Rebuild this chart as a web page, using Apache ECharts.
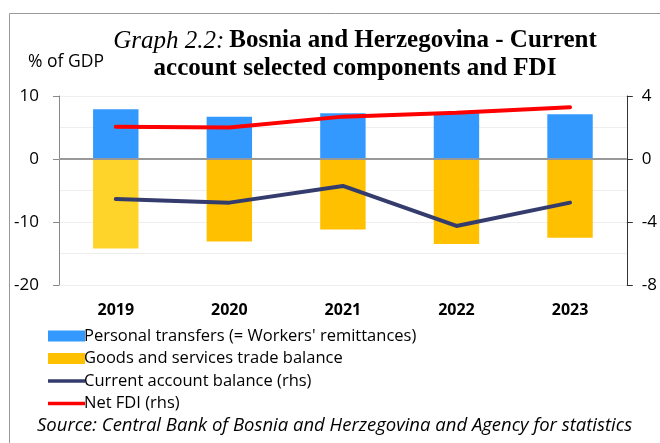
<!DOCTYPE html>
<html>
<head>
<meta charset="utf-8">
<script src="https://cdn.jsdelivr.net/npm/echarts@6/dist/echarts.min.js"></script>
<style>
  html, body { margin: 0; padding: 0; background: #fff; }
  #chart { width: 660px; height: 443px; }
</style>
</head>
<body>
<div id="chart"></div>
<script>
const years = ['2019', '2020', '2021', '2022', '2023']
// % of GDP, left axis
const personalTransfers = [7.9, 6.7, 7.25, 7.25, 7.1]
const tradeBalance = [-14.2, -13.1, -11.2, -13.5, -12.5]
// rhs
const currentAccount = [-2.54, -2.77, -1.71, -4.25, -2.77]
const netFdi = [2.05, 2.0, 2.69, 2.94, 3.28]

const leftTicks = { min: -20, max: 10, interval: 10 }
const rightTicks = { min: -8, max: 4, interval: 4 }

const sans = 'Open Sans'
const lineIcon = 'path://M0,0 L36,0 L36,3.5 L0,3.5 Z'

const myChart = echarts.init(document.getElementById('chart'))

const option = {
    animation: false,
    backgroundColor: '#fff',
    title: {
        text: '{i|Graph 2.2:} {b|Bosnia and Herzegovina - Current}\n{b|account selected components and FDI}',
        left: 350,
        textAlign: 'center',
        top: 22,
        textStyle: {
            rich: {
                i: { fontFamily: 'Liberation Serif', fontStyle: 'italic', fontWeight: 'normal', fontSize: 25, color: '#000', lineHeight: 28 },
                b: { fontFamily: 'Liberation Serif', fontWeight: 'bold', fontSize: 25, color: '#000', lineHeight: 28 }
            }
        }
    },
    graphic: [
        {
            type: 'rect',
            shape: { x: 9.5, y: 13.5, width: 700, height: 500 },
            style: { fill: 'none', stroke: '#999', lineWidth: 1 },
            silent: true
        },
        {
            type: 'text',
            left: 28,
            top: 53,
            style: { text: '% of GDP', fontFamily: sans, fontSize: 17.5, fill: '#000' }
        },
        {
            type: 'text',
            left: 37,
            top: 416,
            style: {
                text: 'Source: Central Bank of Bosnia and Herzegovina and Agency for statistics',
                fontFamily: sans, fontStyle: 'italic', fontSize: 18.5, fill: '#000'
            }
        }
    ],
    legend: {
        orient: 'vertical',
        left: 43,
        top: 322,
        itemWidth: 37,
        itemHeight: 11,
        itemGap: 4.5,
        textStyle: { fontFamily: sans, fontSize: 16.5, lineHeight: 18, color: '#000', padding: [0, 0, 0, -6] },
        data: [
            { name: "Personal transfers (= Workers' remittances)", icon: 'rect', itemStyle: { color: '#3399FF' } },
            { name: 'Goods and services trade balance', icon: 'rect', itemStyle: { color: '#FFC000' } },
            { name: 'Current account balance (rhs)', icon: lineIcon },
            { name: 'Net FDI (rhs)', icon: lineIcon }
        ]
    },
    grid: {
        left: 59,
        right: 33,
        top: 96,
        bottom: 158
    },
    xAxis: {
        type: 'category',
        data: years,
        axisLine: { show: false },
        axisTick: { show: false },
        axisLabel: { fontFamily: sans, fontSize: 16, fontWeight: 'bold', color: '#000', margin: 17 }
    },
    yAxis: [
        {
            type: 'value',
            min: leftTicks.min,
            max: leftTicks.max,
            interval: leftTicks.interval,
            axisLine: { show: true, lineStyle: { color: '#888', width: 1 } },
            axisTick: { show: true, inside: false, length: 6, lineStyle: { color: '#888' } },
            axisLabel: { fontFamily: sans, fontSize: 17, color: '#000', margin: 20 },
            splitLine: { show: true, lineStyle: { color: '#eeeeee', width: 1 } },
            minorTick: { show: false, splitNumber: 2 },
            minorSplitLine: { show: true, lineStyle: { color: '#eeeeee', width: 1 } }
        },
        {
            type: 'value',
            position: 'right',
            min: rightTicks.min,
            max: rightTicks.max,
            interval: rightTicks.interval,
            axisLine: { show: true, lineStyle: { color: '#333', width: 1 } },
            axisTick: { show: true, inside: false, length: 6, lineStyle: { color: '#333' } },
            axisLabel: { fontFamily: sans, fontSize: 17, color: '#000', margin: 15 },
            splitLine: { show: false }
        }
    ],
    series: [
        {
            name: "Personal transfers (= Workers' remittances)",
            type: 'bar',
            stack: 'ca',
            barWidth: '40%',
            data: personalTransfers,
            itemStyle: { color: '#3399FF' },
            markLine: {
                silent: true,
                symbol: 'none',
                label: { show: false },
                lineStyle: { color: '#999', width: 2, type: 'solid' },
                data: [{ yAxis: 0 }]
            }
        },
        {
            name: 'Goods and services trade balance',
            type: 'bar',
            stack: 'ca',
            barWidth: '40%',
            data: tradeBalance,
            itemStyle: { color: p => (p.dataIndex === 0 ? '#FFD42A' : '#FFC000') }
        },
        {
            name: 'Current account balance (rhs)',
            type: 'line',
            yAxisIndex: 1,
            symbol: 'none',
            data: currentAccount,
            lineStyle: { color: '#343C6E', width: 4, cap: 'round' },
            itemStyle: { color: '#343C6E' },
            z: 5
        },
        {
            name: 'Net FDI (rhs)',
            type: 'line',
            yAxisIndex: 1,
            symbol: 'none',
            data: netFdi,
            lineStyle: { color: '#FF0000', width: 4, cap: 'round' },
            itemStyle: { color: '#FF0000' },
            z: 5
        }
    ]
}

option && myChart.setOption(option)
</script>
</body>
</html>
